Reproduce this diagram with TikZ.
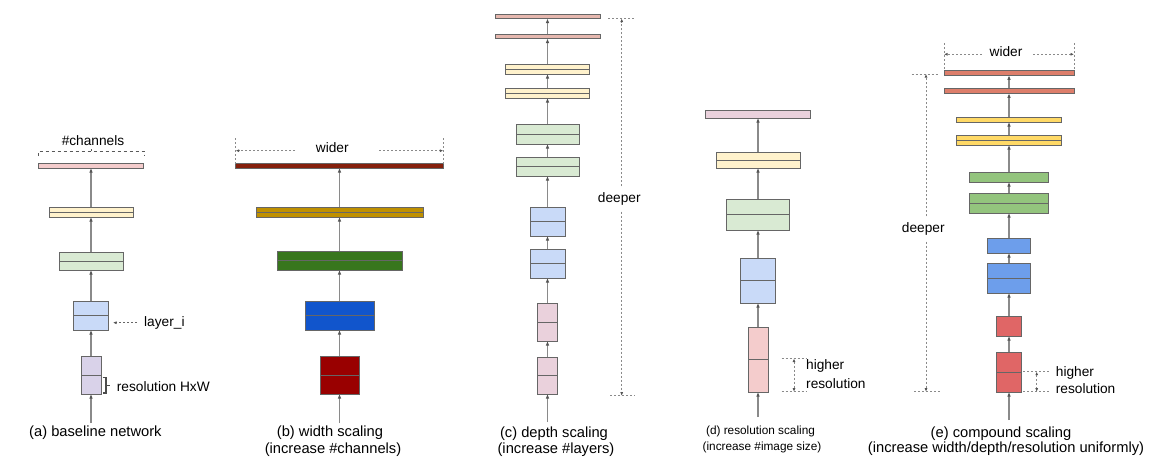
\documentclass[tikz,border=0pt]{standalone}
\usepackage{fontspec}
\setmainfont{Liberation Sans}
\usetikzlibrary{arrows.meta,decorations.pathreplacing}
\definecolor{boxline}{HTML}{666666}
\definecolor{connc}{HTML}{8A8A8A}
\definecolor{tipc}{HTML}{555555}
\definecolor{dashc}{HTML}{8A8A8A}
\definecolor{lred}{HTML}{F4CCCC}
\definecolor{lyel}{HTML}{FFF2CC}
\definecolor{lgrn}{HTML}{D9EAD3}
\definecolor{lblu}{HTML}{C9DAF8}
\definecolor{lpur}{HTML}{D9D2E9}
\definecolor{lmag}{HTML}{EAD1DC}
\definecolor{lberry}{HTML}{E6B8AF}
\definecolor{dberry}{HTML}{85200C}
\definecolor{dyel}{HTML}{BF9000}
\definecolor{dgrn}{HTML}{38761D}
\definecolor{dblu}{HTML}{1155CC}
\definecolor{dred}{HTML}{990000}
\definecolor{mberry}{HTML}{DD7E6B}
\definecolor{myel}{HTML}{FFD966}
\definecolor{mgrn}{HTML}{93C47D}
\definecolor{mblu}{HTML}{6D9EEB}
\definecolor{mred}{HTML}{E06666}
\tikzset{
  box/.style={draw=boxline, line width=0.9pt, inner sep=0pt, outer sep=0pt},
  midl/.style={draw=boxline, line width=0.9pt},
  conn/.style={draw=connc, line width=1.4pt, -{Latex[length=4.5pt,width=3.6pt,color=tipc]}},
  dsh/.style={draw=dashc, line width=0.8pt, dash pattern=on 2.2pt off 1.8pt},
  dar/.style={dsh, -{Latex[length=3.5pt,width=3pt,color=tipc]}},
  dbl/.style={dsh, {Latex[length=3.5pt,width=3pt,color=tipc]}-{Latex[length=3.5pt,width=3pt,color=tipc]}},
  brk/.style={draw=black!65, line width=0.9pt, dash pattern=on 3.5pt off 2.5pt},
  rbrk/.style={draw=black!70, line width=1.1pt},
  lbl/.style={font=\fontsize{13.7}{16}\selectfont, inner sep=0pt},
  captxt/.style={font=\fontsize{14.7}{17}\selectfont, inner sep=0pt},
  captxtd/.style={font=\fontsize{11.8}{14}\selectfont, inner sep=0pt}
}
\newcommand{\lay}[6]{\node[box, fill=#6, minimum width=#3, minimum height={(#5)-(#4)}] (#1) at (#2,{((#4)+(#5))/2}) {};}
\newcommand{\laym}[6]{\lay{#1}{#2}{#3}{#4}{#5}{#6}\draw[midl] (#1.west) -- (#1.east);}
\begin{document}
\begin{tikzpicture}[x=1pt,y=-1pt]
\useasboundingbox (0,0) rectangle (1166,475);

% ---------- (a) baseline ----------
\laym{a1}{91}{20}{356}{394}{lpur}
\laym{a2}{91}{35}{301}{330}{lblu}
\laym{a3}{91}{64}{252}{270}{lgrn}
\laym{a4}{91}{84}{207}{217}{lyel}
\lay{a5}{91}{105}{163}{168}{lred}
\coordinate (ain) at (91,423);
\draw[conn] (ain) -- (a1.south);
\draw[conn] (a1.north) -- (a2.south);
\draw[conn] (a2.north) -- (a3.south);
\draw[conn] (a3.north) -- (a4.south);
\draw[conn] (a4.north) -- (a5.south);
\node[lbl] (ach) at (93,141) {\#channels};
\draw[brk] (38.5,156) -- (38.5,151) -- (144,151) -- (144,156);
\draw[brk, solid] (91,151) -- (91,148.5);
\node[lbl, anchor=west] (ali) at (144,322.7) {layer\_i};
\coordinate (alt) at (113,322.7);
\draw[dar, draw=black!60, shorten <=7pt] (ali.west) -- (alt);
\draw[rbrk] (102.5,377.5) -- (106,377.5) -- (106,393) -- (102.5,393);
\draw[rbrk] (106,385.3) -- (110,385.3);
\node[lbl, anchor=west] (ares) at (116.7,386.7) {resolution HxW};
\node[captxt] (acap) at (95.4,433) {(a) baseline network};

% ---------- (b) width scaling ----------
\laym{b1}{339.5}{39}{356}{394}{dred}
\laym{b2}{339.5}{69}{301}{330}{dblu}
\laym{b3}{339.5}{125}{251}{270}{dgrn}
\laym{b4}{339.5}{167}{207}{217}{dyel}
\lay{b5}{339.5}{208}{163}{168}{dberry}
\coordinate (bin) at (339.5,423);
\draw[conn] (bin) -- (b1.south);
\draw[conn] (b1.north) -- (b2.south);
\draw[conn] (b2.north) -- (b3.south);
\draw[conn] (b3.north) -- (b4.south);
\draw[conn] (b4.north) -- (b5.south);
\node[lbl] (bw) at (332.3,147.3) {wider};
\draw[dsh] (235.7,138) -- (235.7,165);
\draw[dsh] (443.3,138) -- (443.3,165);
\coordinate (bwl) at (235.7,150.7);
\coordinate (bwr) at (443.3,150.7);
\draw[dar] (295,150.7) -- (bwl);
\draw[dar] (379,150.7) -- (bwr);
\node[captxt] (bcap1) at (330,433) {(b) width scaling};
\node[captxt] (bcap2) at (333,449.5) {(increase \#channels)};

% ---------- (c) depth scaling ----------
\laym{c1}{547.5}{20}{357}{394}{lmag}
\laym{c2}{547.5}{20}{303}{341}{lmag}
\laym{c3}{547.5}{35}{249}{278}{lblu}
\laym{c4}{547.5}{35}{207}{236}{lblu}
\laym{c5}{547.5}{63}{157}{176}{lgrn}
\laym{c6}{547.5}{63}{124}{144}{lgrn}
\laym{c7}{547.5}{84}{88}{98}{lyel}
\laym{c8}{547.5}{84}{64}{74}{lyel}
\lay{c9}{547.5}{105}{34}{38.5}{lberry}
\lay{c10}{547.5}{105}{14}{18.5}{lberry}
\coordinate (cin) at (547.5,422);
\draw[conn] (cin) -- (c1.south);
\draw[conn] (c1.north) -- (c2.south);
\draw[conn] (c2.north) -- (c3.south);
\draw[conn] (c3.north) -- (c4.south);
\draw[conn] (c4.north) -- (c5.south);
\draw[conn] (c5.north) -- (c6.south);
\draw[conn] (c6.north) -- (c7.south);
\draw[conn] (c7.north) -- (c8.south);
\draw[conn] (c8.north) -- (c9.south);
\draw[conn] (c9.north) -- (c10.south);
\node[lbl] (cd) at (619.3,199) {deeper};
\coordinate (ct) at (621.7,18.5);
\coordinate (cb) at (621.7,395.7);
\draw[dsh] (608,18.5) -- (634,18.5);
\draw[dsh] (610,395.7) -- (635,395.7);
\draw[dar, shorten <=6pt] (cd.north -| ct) -- (ct);
\draw[dar, shorten <=6pt] (cd.south -| cb) -- (cb);
\node[captxt] (ccap1) at (554,433.3) {(c) depth scaling};
\node[captxt] (ccap2) at (556,450) {(increase \#layers)};

% ---------- (d) resolution scaling ----------
\laym{d1}{758}{20}{327}{392}{lred}
\laym{d2}{758}{35}{258}{303}{lblu}
\laym{d3}{758}{63}{199}{230}{lgrn}
\laym{d4}{758}{84}{152}{168}{lyel}
\lay{d5}{758}{105}{110}{118}{lmag}
\coordinate (din) at (758,417);
\draw[conn] (din) -- (d1.south);
\draw[conn] (d1.north) -- (d2.south);
\draw[conn] (d2.north) -- (d3.south);
\draw[conn] (d3.north) -- (d4.south);
\draw[conn] (d4.north) -- (d5.south);
\draw[dsh] (781.7,358.5) -- (807,358.5);
\draw[dsh] (781.7,391.7) -- (807,391.7);
\coordinate (dh1) at (794,358.5);
\coordinate (dh2) at (794,391.7);
\draw[dbl] (dh1) -- (dh2);
\node[lbl, anchor=west] (dhi) at (806,366) {higher};
\node[lbl, anchor=west] (dre) at (806,383.3) {resolution};
\node[captxtd] (dcap1) at (760.5,431.7) {(d) resolution scaling};
\node[captxtd] (dcap2) at (762,447.5) {(increase \#image size)};

% ---------- (e) compound scaling ----------
\laym{e1}{1009}{25}{352}{392}{mred}
\lay{e2}{1009}{25}{316}{336}{mred}
\laym{e3}{1009}{43}{263}{293}{mblu}
\lay{e4}{1009}{43}{238}{253}{mblu}
\laym{e5}{1009}{79}{193}{213}{mgrn}
\lay{e6}{1009}{79}{172}{182}{mgrn}
\laym{e7}{1009}{105}{135}{145}{myel}
\lay{e8}{1009}{105}{117}{122}{myel}
\lay{e9}{1009}{130}{88}{93.3}{mberry}
\lay{e10}{1009}{130}{70}{75.3}{mberry}
\coordinate (ein) at (1009,420);
\draw[conn] (ein) -- (e1.south);
\draw[conn] (e1.north) -- (e2.south);
\draw[conn] (e2.north) -- (e3.south);
\draw[conn] (e3.north) -- (e4.south);
\draw[conn] (e4.north) -- (e5.south);
\draw[conn] (e5.north) -- (e6.south);
\draw[conn] (e6.north) -- (e7.south);
\draw[conn] (e7.north) -- (e8.south);
\draw[conn] (e8.north) -- (e9.south);
\draw[conn] (e9.north) -- (e10.south);
\node[lbl] (ew) at (1006,51.7) {wider};
\draw[dsh] (944,43) -- (944,71);
\draw[dsh] (1074,43) -- (1074,71);
\coordinate (ewl) at (944,54.3);
\coordinate (ewr) at (1074,54.3);
\draw[dar] (981.7,54.3) -- (ewl);
\draw[dar] (1033,54.3) -- (ewr);
\node[lbl] (ed) at (923.3,229) {deeper};
\coordinate (et) at (926,74);
\coordinate (eb) at (926,391.7);
\draw[dsh] (911.7,74) -- (938.3,74);
\draw[dsh] (914,391.7) -- (940,391.7);
\draw[dar, shorten <=6pt] (ed.north -| et) -- (et);
\draw[dar, shorten <=6pt] (ed.south -| eb) -- (eb);
\draw[dsh] (1023,371.7) -- (1050,371.7);
\draw[dsh] (1023,391.7) -- (1050,391.7);
\coordinate (eh1) at (1036.7,371.7);
\coordinate (eh2) at (1036.7,391.7);
\draw[dbl] (eh1) -- (eh2);
\node[lbl, anchor=west] (ehi) at (1055.7,372.7) {higher};
\node[lbl, anchor=west] (ere) at (1055.7,388.3) {resolution};
\node[captxt] (ecap1) at (1001,433.3) {(e) compound scaling};
\node[captxt] (ecap2) at (1006,449) {(increase width/depth/resolution uniformly)};
\end{tikzpicture}
\end{document}
